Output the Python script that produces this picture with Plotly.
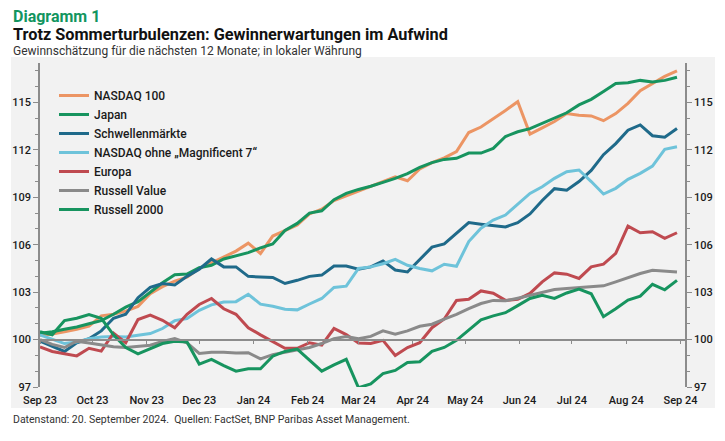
import pandas as pd
import plotly.graph_objects as go

# ---------------- data ----------------
START_DATE = "2023-09-22"
N_WEEKS = 53

nasdaq100 = [100.25, 100.35, 100.5, 100.65, 100.85, 101.5, 101.6, 101.8, 102.1, 102.9,
             103.35, 103.7, 103.95, 104.5, 104.85, 105.2, 105.6, 106.1, 105.45, 106.55,
             106.9, 107.25, 107.95, 108.25, 108.8, 109.1, 109.4, 109.7, 109.95, 110.3,
             110.05, 110.8, 111.2, 111.5, 111.9, 113.1, 113.45, 113.95, 114.5, 115.05,
             113.0, 113.4, 113.8, 114.3, 114.2, 114.15, 113.85, 114.3, 114.95, 115.75,
             116.2, 116.65, 117.0]
japan = [100.4, 100.5, 100.65, 100.8, 101.0, 101.2, 101.6, 102.05, 102.4, 103.0,
         103.6, 104.1, 104.15, 104.55, 104.7, 105.1, 105.3, 105.5, 105.8, 106.05,
         106.9, 107.35, 108.0, 108.15, 108.85, 109.25, 109.5, 109.7, 109.95, 110.2,
         110.5, 110.9, 111.2, 111.4, 111.47, 111.8, 111.8, 112.1, 112.85, 113.15,
         113.35, 113.7, 114.05, 114.35, 114.85, 115.2, 115.7, 116.2, 116.25, 116.4,
         116.3, 116.4, 116.6]
schwellen = [99.9, 99.6, 99.25, 99.8, 100.05, 100.55, 101.35, 101.6, 102.65, 103.3,
             103.55, 103.45, 104.0, 104.45, 105.1, 104.6, 104.6, 104.0, 103.97, 103.93,
             103.55, 103.75, 104.0, 104.08, 104.65, 104.65, 104.45, 104.6, 104.98, 104.4,
             104.28, 105.05, 105.85, 106.05, 106.75, 107.4, 107.3, 107.22, 107.13, 107.4,
             107.95, 108.8, 109.55, 109.45, 110.0, 110.7, 111.7, 112.4, 113.25, 113.58,
             112.9, 112.8, 113.35]
nasdaq_ex7 = [100.3, 100.0, 99.75, 99.85, 100.05, 100.17, 100.2, 100.17, 100.27, 100.38,
              100.7, 101.2, 101.33, 101.85, 102.2, 102.38, 102.4, 102.87, 102.24, 102.11,
              101.92, 101.88, 102.25, 102.6, 103.3, 103.38, 104.5, 104.6, 104.8, 105.07,
              104.7, 104.5, 104.35, 104.77, 104.64, 106.2, 107.05, 107.56, 107.88, 108.55,
              109.25, 109.67, 110.2, 110.62, 110.73, 110.0, 109.21, 109.57, 110.14, 110.52,
              110.98, 112.04, 112.2]
europa = [99.53, 99.25, 99.1, 98.97, 99.45, 99.27, 100.4, 99.8, 101.27, 101.55,
          101.22, 100.75, 101.6, 102.22, 102.6, 101.95, 101.6, 100.75, 100.3, 99.9,
          99.45, 99.45, 99.8, 99.65, 100.7, 100.32, 99.78, 99.75, 99.95, 99.0,
          99.5, 99.8, 100.75, 101.3, 102.48, 102.55, 103.08, 102.93, 102.48, 102.55,
          102.92, 103.65, 104.22, 104.14, 103.87, 104.6, 104.77, 105.45, 107.18, 106.76,
          106.82, 106.4, 106.76]
russell_value = [100.0, 99.7, 99.5, 99.9, 99.78, 99.65, 99.55, 99.5, 99.55, 99.64,
                 99.88, 100.06, 99.8, 99.12, 99.2, 99.2, 99.15, 99.17, 98.78, 99.05,
                 99.2, 99.35, 99.5, 99.75, 100.06, 100.2, 100.06, 100.2, 100.55, 100.34,
                 100.55, 100.84, 100.97, 101.3, 101.6, 101.96, 102.28, 102.48, 102.45, 102.62,
                 102.8, 103.02, 103.17, 103.23, 103.3, 103.33, 103.4, 103.65, 103.93, 104.18,
                 104.39, 104.33, 104.27]
russell2000 = [100.5, 100.3, 101.2, 101.35, 101.58, 101.35, 100.3, 99.5, 99.1, 99.43,
               99.75, 99.9, 99.85, 98.45, 98.75, 98.35, 98.0, 98.15, 98.15, 98.95,
               99.25, 99.4, 98.7, 98.0, 98.4, 98.75, 96.95, 97.2, 97.85, 98.05,
               98.55, 98.6, 99.25, 99.5, 99.95, 100.6, 101.25, 101.5, 101.7, 102.15,
               102.6, 102.8, 102.6, 102.95, 103.2, 102.9, 101.45, 101.95, 102.5, 102.75,
               103.5, 103.15, 103.75]

series_names = ["NASDAQ 100", "Japan", "Schwellenmärkte", "NASDAQ ohne „Magnificent 7“",
                "Europa", "Russell Value", "Russell 2000"]
series_values = [nasdaq100, japan, schwellen, nasdaq_ex7, europa, russell_value, russell2000]
series_colors = ["#EC9564", "#17945F", "#1F6A8A", "#6EC3DA", "#BF4A50", "#8A8A8A", "#17945F"]

tick_labels = ["Sep 23", "Oct 23", "Nov 23", "Dec 23", "Jan 24", "Feb 24", "Mar 24",
               "Apr 24", "May 24", "Jun 24", "Jul 24", "Aug 24", "Sep 24"]
y_tick_values = [97, 100, 103, 106, 109, 112, 115]

dates = pd.date_range(START_DATE, periods=N_WEEKS, freq="7D")
tick_dates = pd.date_range(START_DATE, periods=len(tick_labels), freq=pd.DateOffset(months=1))

# ---------------- layout geometry helpers ----------------
W, H = 725, 441
ML, MR, MT, MB = 40, 40, 63, 54
PW, PH = W - ML - MR, H - MT - MB
Y_MIN, Y_MAX = 97, 117.5
X_RANGE = [dates[0], pd.Timestamp("2024-09-24 14:00")]


def px_x(x):
    return (x - ML) / PW


def px_y(y):
    return (H - MB - y) / PH


FONT = "Roboto"

fig = go.Figure()
for i, (name, vals, col) in enumerate(zip(series_names, series_values, series_colors)):
    fig.add_trace(go.Scatter(
        x=dates, y=vals, name=name, mode="lines",
        line=dict(color=col, width=3), legendgroup=f"g{i}",
    ))

# grey panel background
fig.add_shape(type="rect", xref="paper", yref="paper",
              x0=px_x(11), x1=px_x(715), y0=px_y(408), y1=px_y(57),
              fillcolor="#F2F2F2", line_width=0, layer="below")

annotations = [
    dict(text="<b>Diagramm 1</b>", x=px_x(11), y=px_y(16), font=dict(size=16, color="#12955F")),
    dict(text="<b>Trotz Sommerturbulenzen: Gewinnerwartungen im Aufwind</b>", x=px_x(11), y=px_y(34),
         font=dict(size=16.3, color="#111111")),
    dict(text="Gewinnschätzung für die nächsten 12 Monate; in lokaler Währung", x=px_x(11), y=px_y(51),
         font=dict(size=12, color="#333333")),
    dict(text="Datenstand: 20. September 2024.  Quellen: FactSet, BNP Paribas Asset Management.",
         x=px_x(11), y=px_y(419), font=dict(size=10.5, color="#333333")),
]
for a in annotations:
    fig.add_annotation(xref="paper", yref="paper", xanchor="left", yanchor="middle",
                       showarrow=False, font_family=FONT, **{k: v for k, v in a.items()})

axis_line = "#8C8C8C"
fig.update_layout(
    width=W, height=H,
    margin=dict(l=ML, r=MR, t=MT, b=MB),
    paper_bgcolor="white", plot_bgcolor="rgba(0,0,0,0)",
    font=dict(family=FONT, color="#1a1a1a", size=11),
    showlegend=True,
    legend=dict(x=px_x(54), y=px_y(81), xanchor="left", yanchor="top",
                bgcolor="rgba(0,0,0,0)", font=dict(size=12, color="#1a1a1a", weight=500),
                tracegroupgap=0, itemwidth=30),
    xaxis=dict(range=X_RANGE, tickvals=tick_dates, ticktext=tick_labels,
               showgrid=False, zeroline=False, showline=False, ticks="",
               tickfont=dict(size=11, color="#1a1a1a", weight=500), ticklabelstandoff=5),
    xaxis2=dict(range=X_RANGE, overlaying="x", anchor="free", position=(100 - Y_MIN) / (Y_MAX - Y_MIN),
                tickvals=tick_dates, showticklabels=False, showgrid=False, zeroline=False,
                showline=True, linecolor=axis_line, linewidth=1.5,
                ticks="outside", ticklen=4, tickcolor=axis_line, side="bottom"),
    yaxis=dict(range=[Y_MIN, Y_MAX], tickvals=y_tick_values, showgrid=False, zeroline=False,
               showline=True, linecolor=axis_line, linewidth=1.5,
               ticks="outside", ticklen=5, tickcolor=axis_line,
               minor=dict(dtick=1, ticks="outside", ticklen=3, tickcolor=axis_line),
               tickfont=dict(size=11, color="#1a1a1a", weight=500)),
    yaxis2=dict(range=[Y_MIN, Y_MAX], overlaying="y", side="right", anchor="x",
                tickvals=y_tick_values, showgrid=False, zeroline=False,
                showline=True, linecolor=axis_line, linewidth=1.5,
                ticks="outside", ticklen=5, tickcolor=axis_line,
                minor=dict(dtick=1, ticks="outside", ticklen=3, tickcolor=axis_line),
                tickfont=dict(size=11, color="#1a1a1a", weight=500)),
)

# invisible helper traces so the overlay axes are rendered
fig.add_trace(go.Scatter(x=dates[:1], y=[None], xaxis="x2", yaxis="y", showlegend=False, hoverinfo="skip"))
fig.add_trace(go.Scatter(x=dates[:1], y=[None], xaxis="x", yaxis="y2", showlegend=False, hoverinfo="skip"))

fig.write_html("out.html", config={"displayModeBar": False},
               post_script="document.body.style.margin='0';document.body.style.overflow='hidden';")
